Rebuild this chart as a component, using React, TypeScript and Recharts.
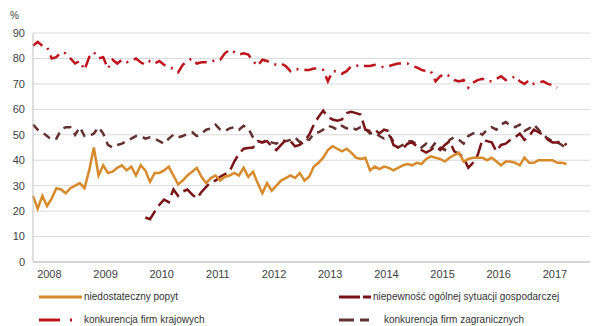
import { LineChart, Line, XAxis, YAxis, CartesianGrid } from "recharts";

const YEARS = ["2008", "2009", "2010", "2011", "2012", "2013", "2014", "2015", "2016", "2017"];
const YEAR_TICKS = [3.5, 15.5, 27.5, 39.5, 51.5, 63.5, 75.5, 87.5, 99.5, 111.5];
const Y_TICKS = [0, 10, 20, 30, 40, 50, 60, 70, 80, 90];

// monthly readings, first point = index 0
const popyt = [
  26, 21, 26, 22, 25, 29, 28.5, 27, 29, 30, 31, 29,
  36, 45, 34, 38, 35, 35.5, 37, 38, 36, 37.5, 34, 38,
  36, 31.5, 35, 35, 36, 37.5, 34, 30.5, 32, 34, 35.5, 37,
  33.5, 31, 33, 34, 32, 33.5, 34, 35, 34, 37, 33.5, 35.5,
  31, 27, 31, 28, 30, 32, 33, 34, 33, 35, 32, 33.5,
  37.5, 39, 41, 44, 45.5, 44.5, 43.5, 44.5, 43, 41, 40.5, 41,
  36, 37.5, 36.5, 37.5, 37, 36, 37, 38, 38.5, 38, 39, 38.5,
  40.5, 41.5, 41, 40.5, 39.5, 41, 42, 43, 39.5, 40.5, 41, 41,
  41, 40, 41, 39.5, 38, 39.5, 39.5, 39, 38, 41, 39, 39,
  40, 40, 40, 40, 39, 39, 38.5,
];

// starts at index 24
const NIEPEWNOSC_START = 24;
const niepewnosc = [
  17.5, 16.8, 19.8, 22.5, 24.5, 23.5, 28.5, 26, 27.7, 28.5, 26.5, 25,
  27.5, 29.5, 31.5, 32, 33.5, 34.5, 35.5, 39.5, 42.5, 44.5, 44.8, 45,
  47.5, 47, 47.5, 45.5, 44, 46, 48, 47.5, 45.5, 46, 47.5, 50,
  54, 57, 59.5, 57, 56, 55.5, 56, 58.5, 59, 58.5, 58, 52,
  51.5, 52, 50.5, 52, 51.5, 46, 45, 44.5, 46.5, 47, 45.5, 44,
  43, 44, 45.5, 44, 46, 47.5, 43.5, 42.5, 41, 37, 39, 42,
  48, 47.5, 47, 43.5, 46, 46.5, 48, 49, 50.5, 48, 49.5, 52,
  51, 50, 48, 47, 47, 47.5, 46,
];

const krajowe = [
  85, 86.5, 85, 84.5, 80, 80.5, 82.5, 82, 80, 78, 79, 75.5,
  80.5, 82.5, 80, 80.5, 76, 79.5, 78, 79.5, 78.5, 79, 80, 78.5,
  77.5, 79, 78, 79, 77.5, 76.5, 76, 74.5, 77.5, 79, 80, 78,
  78.5, 78.5, 78.5, 79.5, 79.5, 82, 83.5, 82.5, 81.5, 82, 81.5, 79,
  77, 79.5, 79, 78, 77.5, 78, 77, 75, 76, 75.5, 75.5, 75.5,
  76, 76, 75.5, 71, 75, 75, 74, 75, 77, 77, 77.5, 77,
  77, 77.5, 77, 76.5, 77, 77.5, 78, 78, 78, 77, 76.5, 75.5,
  75, 75, 71, 73, 74, 73, 71.5, 71, 71.5, 68.5, 70.5, 71.5,
  72, 71, 71, 72, 73, 71.5, 72, 73, 71, 70, 71.5, 70,
  70.5, 71, 70, 69.5, 68.5,
];

const zagraniczne = [
  54, 52, 51, 49.5, 48, 48.5, 52, 53, 53, 50, 53, 49.5,
  49.5, 50.5, 53, 50.5, 46, 45, 46, 46.5, 47.5, 48.5, 49.5, 49.5,
  48.5, 49, 48.5, 47.5, 46.5, 48.5, 50, 49, 49.5, 50.5, 51, 49.5,
  50.5, 52, 52.5, 54, 52, 51.5, 52.5, 53, 52, 53.5, 52.5, 49,
  47.5, 47, 48, 47, 46.5, 48, 47.5, 48, 49, 47, 48.5, 48,
  50.5, 51, 52, 53.5, 53, 52, 53.5, 52.5, 53, 52, 53, 52.5,
  50.5, 51, 49.5, 48.5, 50, 47.5, 45, 46, 47.5, 47.5, 46, 45,
  46.5, 44.5, 47, 45, 44, 48, 49, 48, 46.5, 49.5, 50.5, 51,
  50, 52, 53, 52, 54, 55, 53.5, 53, 54, 51.5, 52.5, 54,
  52, 50, 48.5, 47.5, 47, 46, 44.5,
];

const C_POPYT = "#D8892B";
const C_NIEP = "#7A1418";
const C_KRAJ = "#C0141C";
const C_ZAGR = "#643030";

const DASH_NIEP = "15 6";
const DASH_KRAJ = "12 6 2 6";
const DASH_ZAGR = "8 6";

const rows = popyt.map((v, i) => ({
  i,
  popyt: v,
  niepewnosc: i >= NIEPEWNOSC_START ? niepewnosc[i - NIEPEWNOSC_START] ?? null : null,
  krajowe: krajowe[i] ?? null,
  zagraniczne: zagraniczne[i] ?? null,
}));

const FONT = '"Liberation Sans", Arial, sans-serif';

function Sample({ color, dash, w }: { color: string; dash?: string; w: number }) {
  return (
    <svg width={w} height={6} style={{ display: "block" }}>
      <line x1={0} y1={3} x2={w} y2={3} stroke={color} strokeWidth={3} strokeDasharray={dash} />
    </svg>
  );
}

function LegendItem({ x, y, color, dash, w, textX, label }: any) {
  return (
    <>
      <div style={{ position: "absolute", left: x, top: y - 3 }}>
        <Sample color={color} dash={dash} w={w} />
      </div>
      <div
        style={{
          position: "absolute",
          left: textX,
          top: y - 7,
          fontSize: 10,
          lineHeight: "13px",
          color: "#333",
          whiteSpace: "nowrap",
        }}
      >
        {label}
      </div>
    </>
  );
}

export default function App() {
  return (
    <div style={{ position: "absolute", left: 0, top: 0, width: 595, height: 326, background: "#fff", fontFamily: FONT }}>
      <div style={{ position: "absolute", left: 10, top: 10, fontSize: 10, color: "#404040" }}>%</div>
      <LineChart width={595} height={326} data={rows} margin={{ top: 33, right: 5, left: 0, bottom: 44 }}>
        <CartesianGrid vertical={false} stroke="#D9D9D9" />
        <XAxis
          type="number"
          dataKey="i"
          domain={[0, 119]}
          ticks={YEAR_TICKS}
          tickFormatter={(v: number) => YEARS[YEAR_TICKS.indexOf(v)] ?? ""}
          tickLine={false}
          axisLine={{ stroke: "#BFBFBF" }}
          height={20}
          tick={{ fontSize: 11, fill: "#404040", fontFamily: FONT }}
        />
        <YAxis
          domain={[0, 90]}
          ticks={Y_TICKS}
          width={33}
          tickLine={false}
          axisLine={{ stroke: "#BFBFBF" }}
          tick={{ fontSize: 11, fill: "#404040", fontFamily: FONT }}
        />
        <Line dataKey="krajowe" stroke={C_KRAJ} strokeWidth={2.5} strokeDasharray={DASH_KRAJ} dot={false} isAnimationActive={false} />
        <Line dataKey="zagraniczne" stroke={C_ZAGR} strokeWidth={2.5} strokeDasharray={DASH_ZAGR} dot={false} isAnimationActive={false} />
        <Line dataKey="niepewnosc" stroke={C_NIEP} strokeWidth={2.5} strokeDasharray={DASH_NIEP} dot={false} isAnimationActive={false} />
        <Line dataKey="popyt" stroke={C_POPYT} strokeWidth={2.5} dot={false} isAnimationActive={false} />
      </LineChart>
      <LegendItem x={39} y={297} color={C_POPYT} w={43} textX={84} label="niedostateczny popyt" />
      <LegendItem x={339} y={297} color={C_NIEP} dash={DASH_NIEP.replace("15 6", "21 3")} w={32} textX={373} label="niepewność ogólnej sytuacji gospodarczej" />
      <LegendItem x={39} y={320} color={C_KRAJ} dash="21 10 2 20" w={34} textX={84} label="konkurencja firm krajowych" />
      <LegendItem x={339} y={320} color={C_ZAGR} dash="15 6" w={30} textX={384} label="konkurencja firm zagranicznych" />
    </div>
  );
}
